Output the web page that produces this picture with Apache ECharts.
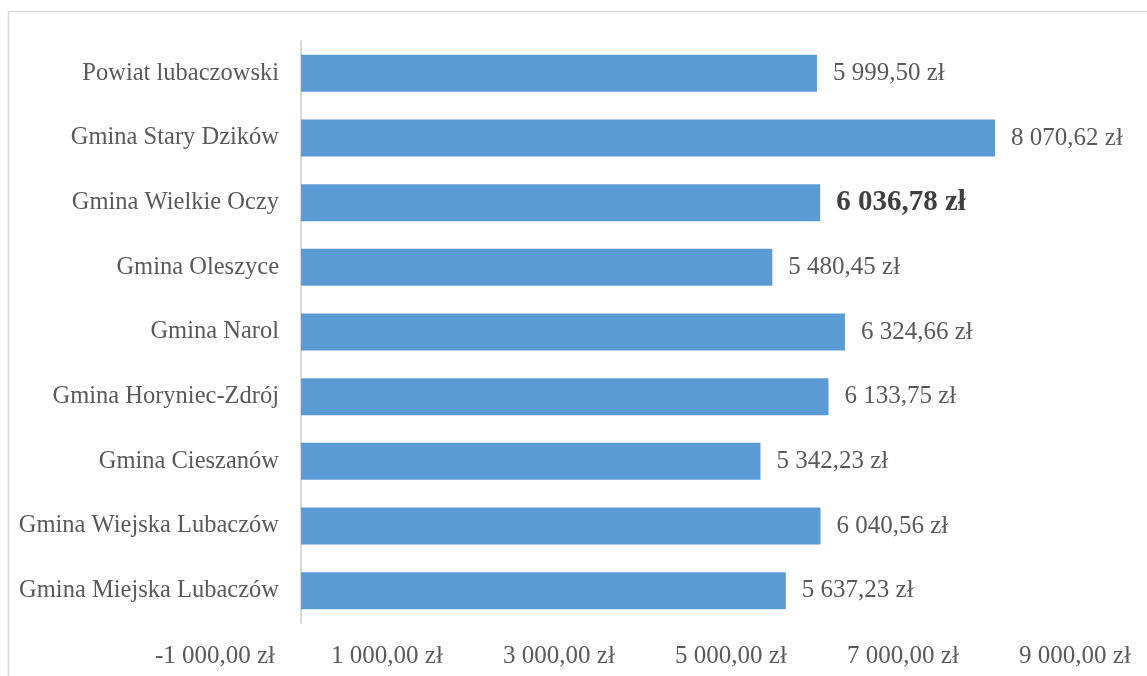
<!DOCTYPE html>
<html><head><meta charset="utf-8">
<script src="https://cdn.jsdelivr.net/npm/echarts@6/dist/echarts.min.js"></script>
<style>html,body{margin:0;padding:0;background:#fff}#c{width:1147px;height:676px}</style>
</head><body><div id="c"></div>
<script>
const categories = ["Powiat lubaczowski","Gmina Stary Dzików","Gmina Wielkie Oczy","Gmina Oleszyce","Gmina Narol","Gmina Horyniec-Zdrój","Gmina Cieszanów","Gmina Wiejska Lubaczów","Gmina Miejska Lubaczów"];
const values = [5999.50, 8070.62, 6036.78, 5480.45, 6324.66, 6133.75, 5342.23, 6040.56, 5637.23];
const highlightIndex = 2;
const axisMin = -1000, axisMax = 9000, axisStep = 2000;

const FONT = "'Liberation Serif', serif";
const GRID_LEFT = 215, GRID_RIGHT = 72, W = 1147;
const gridWidth = W - GRID_LEFT - GRID_RIGHT;
const zeroOffset = -gridWidth * (0 - axisMin) / (axisMax - axisMin);

function fmt(v){
  const neg = v < 0; v = Math.abs(v);
  let [i, d] = v.toFixed(2).split('.');
  i = i.replace(/\B(?=(\d{3})+(?!\d))/g, ' ');
  return (neg ? '-' : '') + i + ',' + d + ' zł';
}
const chart = echarts.init(document.getElementById('c'), null, {renderer:'canvas'});
chart.setOption({
  animation:false,
  backgroundColor:'#fff',
  graphic:[{type:'rect',shape:{x:8.5,y:11.5,width:1200,height:800},style:{fill:'none',stroke:'#D9D9D9',lineWidth:1.5},silent:true}],
  grid:{left:GRID_LEFT,right:GRID_RIGHT,top:41,bottom:53,containLabel:false,outerBoundsMode:'none'},
  xAxis:{type:'value',min:axisMin,max:axisMax,interval:axisStep,
    axisLine:{show:false},axisTick:{show:false},splitLine:{show:false},
    axisLabel:{formatter:fmt,color:'#595959',fontFamily:FONT,fontSize:25,margin:21}},
  yAxis:{type:'category',data:categories,inverse:true,offset:zeroOffset,
    axisLine:{show:true,onZero:false,lineStyle:{color:'#D9D9D9',width:2}},
    axisTick:{show:false},
    axisLabel:{color:'#595959',fontFamily:FONT,fontSize:24.5,margin:22,padding:[3,0,0,0]}},
  series:[{type:'bar',barWidth:37,
    itemStyle:{color:'#5B9BD5'},
    label:{show:true,position:'right',distance:16,formatter:p=>fmt(p.value),color:'#595959',fontFamily:FONT,fontSize:25,padding:[3,0,0,0]},
    data:values.map((v,i)=> i===highlightIndex ? {value:v,label:{fontWeight:'bold',fontSize:29,color:'#404040'}} : v)
  }]
});
</script></body></html>
